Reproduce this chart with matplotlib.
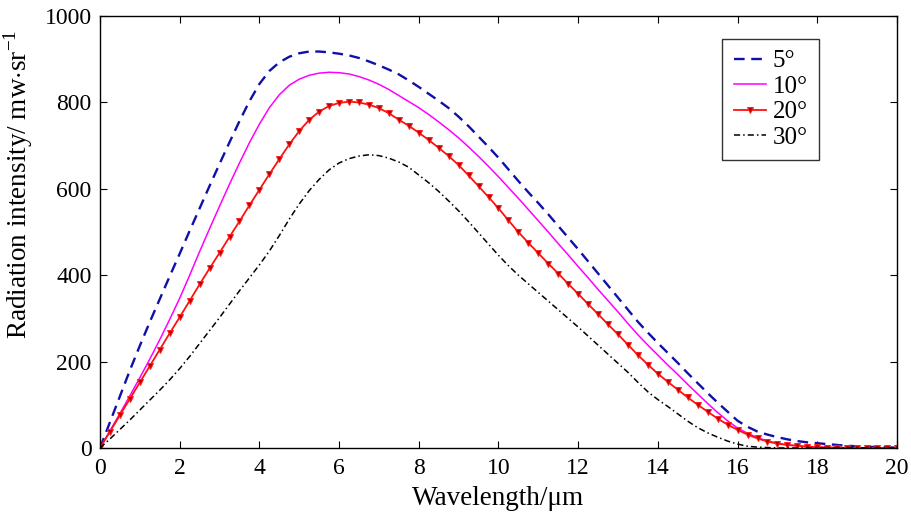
import numpy as np
import matplotlib
matplotlib.use("Agg")
import matplotlib.pyplot as plt

plt.rcParams['font.family'] = ['Liberation Serif', 'DejaVu Serif']
plt.rcParams['mathtext.fontset'] = 'custom'
plt.rcParams['mathtext.rm'] = 'Liberation Serif'

# wavelength grid (µm), step 0.25
wavelength = [i * 0.25 for i in range(81)]

deg5 = [0, 60, 120, 180, 237, 292, 345, 398,          # 0 - 1.75
        450, 503, 555, 607, 658, 708, 757, 803,       # 2 - 3.75
        843, 873, 893, 906, 914, 918, 918, 916,       # 4 - 5.75
        913, 909, 903, 895, 886, 876, 865, 851,       # 6 - 7.75
        836, 820, 804, 787, 767, 745, 721, 697,       # 8 - 9.75
        672, 645, 618, 592, 567, 541, 514, 487,       # 10 - 11.75
        460, 432, 404, 376, 348, 320, 292, 267,       # 12 - 13.75
        243, 220, 197, 173, 150, 127, 105, 84,        # 14 - 15.75
        63, 49, 38, 31, 25, 20, 16, 13,               # 16 - 17.75
        11, 9, 7, 5, 4, 3, 2, 1,                      # 18 - 19.75
        1]
deg10 = [0, 40, 80, 121, 163, 206, 251, 298,
         347, 400, 455, 508, 560, 611, 660, 707,
         750, 788, 818, 840, 854, 863, 868, 870,
         869, 866, 860, 852, 842, 830, 816, 802,
         788, 772, 755, 737, 718, 697, 675, 652,
         628, 603, 578, 552, 526, 500, 473, 447,
         420, 394, 367, 341, 315, 288, 262, 238,
         215, 192, 170, 147, 125, 103, 82, 63,
         46, 34, 24, 16, 11, 7, 5, 3,
         2, 1, 1, 0, 0, 0, 0, 0,
         0]
deg20 = [0, 38, 76, 114, 152, 190, 228, 266,
         303, 341, 379, 416, 452, 489, 525, 562,
         598, 634, 669, 703, 734, 760, 779, 792,
         799, 802, 800, 795, 787, 775, 760, 746,
         730, 713, 695, 676, 655, 631, 606, 581,
         555, 527, 500, 475, 451, 427, 404, 380,
         357, 333, 310, 286, 263, 239, 215, 193,
         172, 153, 135, 117, 100, 84, 68, 54,
         42, 31, 22, 15, 10, 7, 5, 3,
         2, 1, 1, 0, 0, 0, 0, 0,
         0]
deg30 = [0, 21, 43, 65, 88, 111, 134, 158,
         184, 212, 242, 272, 302, 333, 364, 394,
         424, 456, 492, 530, 565, 596, 622, 644,
         660, 670, 676, 679, 677, 671, 662, 650,
         632, 614, 594, 572, 549, 524, 498, 472,
         446, 422, 400, 380, 360, 340, 320, 300,
         280, 259, 238, 217, 196, 175, 152, 130,
         112, 96, 79, 62, 47, 35, 25, 16,
         9, 4, 2, 1, 0, 0, 0, 0,
         0, 0, 0, 0, 0, 0, 0, 0,
         0]

labels = ['5°', '10°', '20°', '30°']

fig = plt.figure(figsize=(9.11, 5.20), dpi=100)
ax = fig.add_axes([0.1098, 0.1385, 0.8748, 0.8305])

ax.plot(wavelength, deg5, color='#1010a8', ls=(0, (4.5, 2.8)), lw=1.7, label=labels[0])
ax.plot(wavelength, deg10, color='#ff00ff', ls='-', lw=1.1, label=labels[1])
ax.plot(wavelength, deg20, color='#ff1010', ls='-', lw=1.3, marker='v', ms=4.2,
        mfc='#c00000', mec='#ff2020', mew=0.7, label=labels[2])
ax.plot(wavelength, deg30, color='black', ls=(0, (4, 2, 1, 2)), lw=1.1, label=labels[3])

ax.set_xlim(0, 20)
ax.set_ylim(0, 1000)
ax.set_xticks(np.arange(0, 21, 2))
ax.set_yticks(np.arange(0, 1001, 200))
ax.tick_params(direction='in', top=True, right=True, length=5, labelsize=17)
ax.tick_params(axis='x', pad=7)
ax.tick_params(axis='y', pad=6)
for s in ax.spines.values():
    s.set_linewidth(1.0)

ax.set_xlabel('Wavelength/μm', fontsize=19.5, labelpad=5)
ax.set_ylabel('Radiation intensity/ mw$\\cdot$sr$^{-1}$', fontsize=19.5)
ax.yaxis.set_label_coords(-0.081, 0.611)

leg = ax.legend(loc='upper right', bbox_to_anchor=(0.902, 0.948), fontsize=18,
                frameon=True, fancybox=False, edgecolor='black', handlelength=1.3,
                handletextpad=0.25, labelspacing=0.12, borderpad=0.45, borderaxespad=0.0)
leg.get_frame().set_linewidth(1.0)

fig.savefig('out.png', dpi=100)
